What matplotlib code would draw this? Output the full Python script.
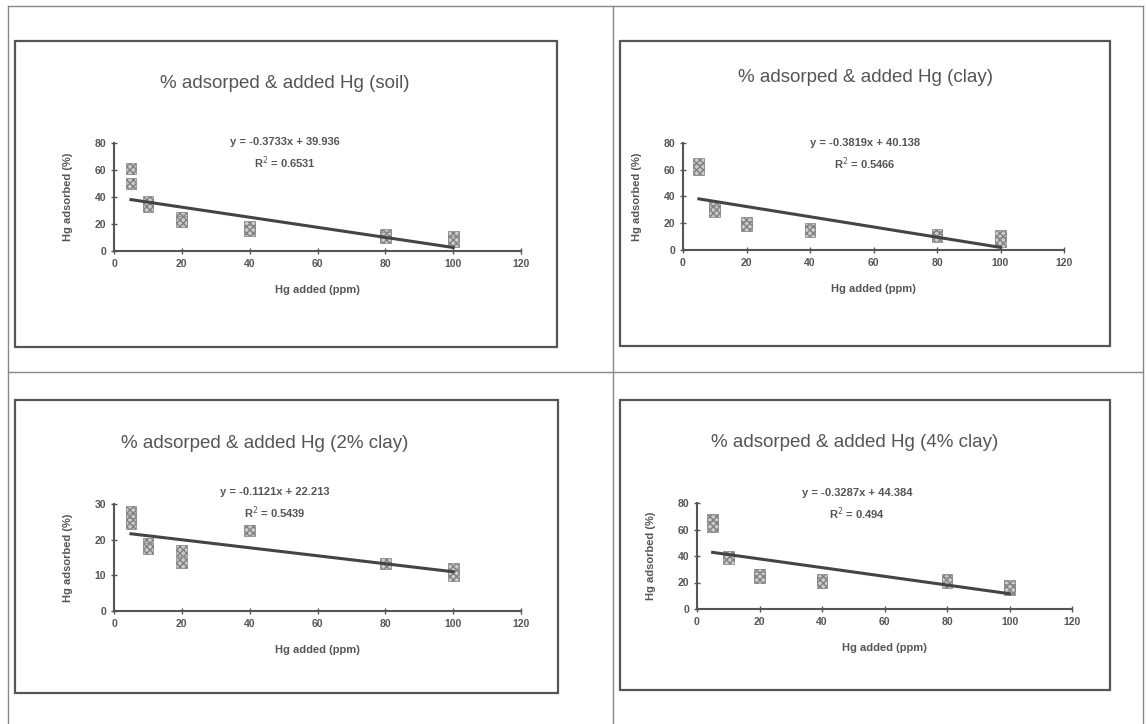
import matplotlib.pyplot as plt
from matplotlib.lines import Line2D
from matplotlib.patches import Rectangle

plt.rcParams['font.family'] = ['Liberation Sans', 'DejaVu Sans']

# Data
titles = ["% adsorped & added Hg (soil)", "% adsorped & added Hg (clay)",
          "% adsorped & added Hg (2% clay)", "% adsorped & added Hg (4% clay)"]

soil_x = [5, 5, 10, 10, 20, 20, 40, 40, 80, 80, 100, 100]
soil_y = [61, 50, 37, 33, 25, 22, 18, 15, 12, 10, 11, 7]

clay_x = [5, 5, 10, 10, 20, 20, 40, 40, 80, 80, 100, 100]
clay_y = [65, 60, 32, 29, 21, 18, 16, 14, 12, 10, 11, 6]

clay2_x = [5, 5, 5, 10, 10, 20, 20, 40, 80, 100, 100]
clay2_y = [28, 26, 24.5, 19, 17.5, 17, 13.5, 22.5, 13.3, 12, 10]

clay4_x = [5, 5, 10, 10, 20, 20, 40, 40, 80, 80, 100, 100]
clay4_y = [68, 62, 40, 38, 26, 24, 22, 20, 22, 20, 18, 15]

slopes = [-0.3733, -0.3819, -0.1121, -0.3287]
intercepts = [39.936, 40.138, 22.213, 44.384]
r2_values = ["0.6531", "0.5466", "0.5439", "0.494"]

y_max = [80, 80, 30, 80]
y_ticks = [[0, 20, 40, 60, 80], [0, 20, 40, 60, 80], [0, 10, 20, 30], [0, 20, 40, 60, 80]]
x_ticks = [0, 20, 40, 60, 80, 100, 120]

W, H = 1146, 724
fig = plt.figure(figsize=(W / 100, H / 100), dpi=100)


def px_axes(l, t, r, b):
    return fig.add_axes([l / W, 1 - b / H, (r - l) / W, (b - t) / H])


def fig_line(x0, y0, x1, y1, color="#888888", lw=1.0):
    fig.add_artist(Line2D([x0 / W, x1 / W], [1 - y0 / H, 1 - y1 / H],
                          color=color, lw=lw, transform=fig.transFigure))


# Table grid lines
fig_line(8, 6, 1143, 6)
fig_line(8, 6, 8, 724)
fig_line(613, 6, 613, 724)
fig_line(1143, 6, 1143, 724)
fig_line(8, 372, 1143, 372)

# Chart boxes (l, t, r, b)
boxes = [(15, 41, 557, 347), (620, 41, 1110, 346), (15, 400, 558, 693), (620, 400, 1110, 690)]
for l, t, r, b in boxes:
    fig.add_artist(Rectangle((l / W, 1 - b / H), (r - l) / W, (b - t) / H, fill=False,
                             edgecolor="#555555", lw=1.6, transform=fig.transFigure))

# Plot areas (l, t, r, b)
areas = [(114, 143, 521, 251), (683, 143, 1064, 250), (114, 504, 521, 611), (697, 503, 1072, 609)]
title_pos = [(285, 83), (865, 78), (265, 443), (855, 442)]
eq_pos = [(285, 142), (865, 143), (275, 492), (857, 493)]
xs = [soil_x, clay_x, clay2_x, clay4_x]
ys = [soil_y, clay_y, clay2_y, clay4_y]

for i in range(4):
    ax = px_axes(*areas[i])
    ax.patch.set_alpha(0)
    ax.scatter(xs[i], ys[i], marker="s", s=60, facecolor="#cccccc",
               edgecolor="#808080", hatch="xxxxx", linewidth=0.5, zorder=3)
    line_x = [5, 100]
    line_y = [slopes[i] * v + intercepts[i] for v in line_x]
    ax.plot(line_x, line_y, color="#444444", lw=2.2, zorder=4)

    ax.set_xlim(0, 120)
    ax.set_ylim(0, y_max[i])
    ax.set_xticks(x_ticks)
    ax.set_yticks(y_ticks[i])
    ax.spines["top"].set_visible(False)
    ax.spines["right"].set_visible(False)
    ax.spines["left"].set_color("#555555")
    ax.spines["bottom"].set_color("#555555")
    ax.spines["left"].set_linewidth(1.5)
    ax.spines["bottom"].set_linewidth(1.5)
    ax.tick_params(direction="inout", length=4, width=1, colors="#555555",
                   labelsize=7.5, labelcolor="#555555")
    for lab in ax.get_xticklabels() + ax.get_yticklabels():
        lab.set_fontweight("bold")
    ax.set_xlabel("Hg added (ppm)", fontsize=8, fontweight="bold", color="#555555", labelpad=12)
    ax.set_ylabel("Hg adsorbed (%)", fontsize=8, fontweight="bold", color="#555555", labelpad=16)

    tx, ty = title_pos[i]
    fig.text(tx / W, 1 - ty / H, titles[i], ha="center", va="center",
             fontsize=13.5, color="#555555")
    ex, ey = eq_pos[i]
    fig.text(ex / W, 1 - ey / H, "y = %.4gx + %.3f" % (slopes[i], intercepts[i]),
             ha="center", va="center", fontsize=8, fontweight="bold", color="#555555")
    fig.text(ex / W, 1 - (ey + 21) / H, "R$^2$ = " + r2_values[i],
             ha="center", va="center", fontsize=8, fontweight="bold", color="#555555")

fig.savefig("out.png", dpi=100)
